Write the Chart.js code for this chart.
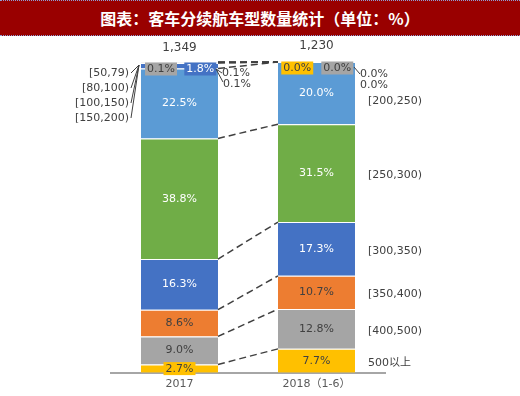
<!DOCTYPE html>
<html>
<head>
<meta charset="utf-8">
<script src="https://cdn.jsdelivr.net/npm/chart.js@4"></script>
<style>
  html, body { margin: 0; padding: 0; background: #fff; }
  #wrap { position: relative; width: 520px; height: 396px; }
  #title {
    position: absolute; left: 0; top: 0; width: 520px; height: 36px;
    background: #990000; color: #fff; text-align: center;
    font: bold 16px "Noto Sans CJK SC", sans-serif; line-height: 35px;
    border-top: 1px dotted #8fa0d8; border-bottom: 1px dotted #8fa0d8;
    box-sizing: border-box;
  }
  canvas { position: absolute; left: 0; top: 0; }
</style>
</head>
<body>
<div id="wrap">
  <canvas id="chart" width="520" height="396"></canvas>
  <div id="title">图表：客车分续航车型数量统计（单位：%）</div>
</div>
<script>
// Passenger bus models by driving range, share of each range (%)
const categories = ['2017', '2018（1-6）'];
const ranges = ['500以上', '[400,500)', '[350,400)', '[300,350)', '[250,300)',
                '[200,250)', '[150,200)', '[100,150)', '[80,100)', '[50,79)'];
const share2017 = [2.7, 9.0, 8.6, 16.3, 38.8, 22.5, 1.8, 0.1, 0.1, 0.1];
const share2018 = [7.7, 12.8, 10.7, 17.3, 31.5, 20.0, 0.0, 0.0, 0.0, 0.0];
const totals = ['1,349', '1,230'];

const colors = ['#FFC000', '#A5A5A5', '#ED7D31', '#4472C4', '#70AD47',
                '#5B9BD5', '#4472C4', '#A5A5A5', '#FFC000', '#ED7D31'];
const textColors = ['#404040', '#404040', '#404040', '#fff', '#fff',
                    '#fff', '#fff', '#404040', '#404040', '#404040'];

const FONT = '"DejaVu Sans", "Noto Sans CJK SC", sans-serif';
const DARK = '#404040';

function pct(v) { return v.toFixed(1) + '%'; }

function boxLabel(ctx, text, cx, cy, bg, fg) {
  const w = ctx.measureText(text).width + 4;
  ctx.fillStyle = bg;
  ctx.fillRect(cx - w / 2, cy - 6.5, w, 13);
  ctx.fillStyle = fg;
  ctx.fillText(text, cx, cy + 0.5);
}

const segLabels = {
  id: 'segLabels',
  afterDatasetsDraw(chart) {
    const ctx = chart.ctx;
    const metas = chart.data.datasets.map((d, i) => chart.getDatasetMeta(i));
    const yTop = chart.scales.y.getPixelForValue(100);
    ctx.save();

    // dashed series lines between the two bars
    ctx.strokeStyle = '#404040';
    ctx.lineWidth = 1.5;
    ctx.setLineDash([7, 4]);
    metas.forEach(meta => {
      const a = meta.data[0], b = meta.data[1];
      ctx.beginPath();
      ctx.moveTo(a.x + a.width / 2, a.y);
      ctx.lineTo(b.x - b.width / 2, b.y);
      ctx.stroke();
    });
    ctx.setLineDash([]);

    ctx.font = '11px ' + FONT;
    ctx.textAlign = 'center';
    ctx.textBaseline = 'middle';

    // labels inside the large segments
    metas.forEach((meta, i) => {
      meta.data.forEach((bar, j) => {
        const v = chart.data.datasets[i].data[j];
        if (v < 2) return;
        const cy = (bar.y + bar.base) / 2;
        if (v < 4) {
          boxLabel(ctx, pct(v), bar.x, cy, colors[i], textColors[i]);
        } else {
          ctx.fillStyle = textColors[i];
          ctx.fillText(pct(v), bar.x, cy);
        }
      });
    });

    // small segments at the top of each bar
    const b0 = metas[0].data[0], b1 = metas[0].data[1];
    const ty = yTop + 7;
    boxLabel(ctx, pct(share2017[7]), b0.x - b0.width * 0.24, ty, colors[7], DARK);
    boxLabel(ctx, pct(share2017[6]), b0.x + b0.width * 0.27, ty, colors[6], '#fff');
    boxLabel(ctx, pct(share2018[8]), b1.x - b1.width * 0.25, ty - 1, colors[8], DARK);
    boxLabel(ctx, pct(share2018[7]), b1.x + b1.width * 0.27, ty - 1, colors[7], DARK);

    ctx.textAlign = 'left';
    ctx.fillStyle = DARK;
    const r0 = b0.x + b0.width / 2, r1 = b1.x + b1.width / 2;
    ctx.fillText(pct(share2017[8]), r0 + 4, yTop + 11);
    ctx.fillText(pct(share2017[9]), r0 + 5, yTop + 22);
    ctx.fillText(pct(share2018[9]), r1 + 5, yTop + 12);
    ctx.fillText(pct(share2018[6]), r1 + 5, yTop + 23);

    ctx.strokeStyle = '#404040';
    ctx.lineWidth = 1;
    ctx.beginPath();
    ctx.moveTo(r0 - 2, yTop + 7); ctx.lineTo(r0 + 4, yTop + 11);
    ctx.moveTo(r0 - 2, yTop + 7); ctx.lineTo(r0 + 5, yTop + 20);
    ctx.moveTo(r1 - 1, yTop + 5); ctx.lineTo(r1 + 5, yTop + 12);
    ctx.stroke();

    // range labels on the left of 2017 (top four ranges)
    const l0 = b0.x - b0.width / 2;
    ctx.textAlign = 'right';
    [9, 8, 7, 6].forEach((k, n) => {
      const ly = yTop + 11 + n * 15;
      ctx.fillStyle = DARK;
      ctx.fillText(ranges[k], l0 - 12, ly);
      ctx.beginPath();
      ctx.moveTo(l0 - 10, ly);
      ctx.lineTo(l0 - 2, yTop + 3);
      ctx.stroke();
    });

    // range labels on the right of 2018
    ctx.textAlign = 'left';
    for (let i = 0; i <= 5; i++) {
      const bar = metas[i].data[1];
      let cy = (bar.y + bar.base) / 2 + 2;
      if (i === 5) cy += 6;
      ctx.fillStyle = DARK;
      ctx.fillText(ranges[i], r1 + 13, cy);
    }

    // totals above the bars
    ctx.textAlign = 'center';
    ctx.font = '12px ' + FONT;
    ctx.fillStyle = DARK;
    ctx.fillText(totals[0], b0.x, yTop - 14);
    ctx.fillText(totals[1], b1.x, yTop - 16);

    ctx.restore();
  }
};

const datasets = ranges.map((name, i) => ({
  label: name,
  data: [share2017[i], share2018[i]],
  backgroundColor: colors[i],
  borderColor: '#ffffff',
  borderWidth: { top: 1, left: 0, right: 0, bottom: 0 },
  borderSkipped: false,
  barPercentage: 0.562,
  categoryPercentage: 1
}));

new Chart(document.getElementById('chart'), {
  type: 'bar',
  data: { labels: categories, datasets: datasets },
  options: {
    responsive: false,
    animation: false,
    layout: { padding: { left: 111, right: 135, top: 62, bottom: 0 } },
    plugins: {
      legend: { display: false },
      tooltip: { enabled: false }
    },
    scales: {
      x: {
        stacked: true,
        grid: { display: false, drawTicks: false },
        border: { display: true, color: '#a6a6a6', width: 2 },
        ticks: { color: '#595959', padding: 5, font: { size: 11, family: FONT } }
      },
      y: {
        stacked: true,
        display: false,
        min: 0,
        max: 100
      }
    }
  },
  plugins: [segLabels]
});
</script>
</body>
</html>
